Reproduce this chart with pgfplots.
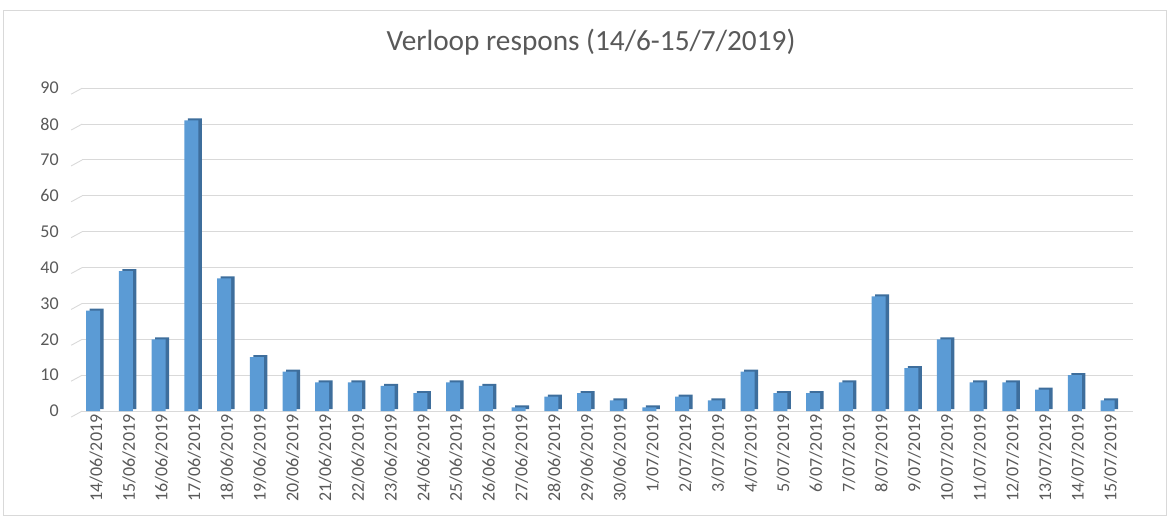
\documentclass[border=0pt]{standalone}
\usepackage{pgfplots}
\pgfplotsset{compat=1.18}
\usepackage{fontspec}
\setmainfont{Carlito}
\definecolor{txt}{HTML}{595959}
\definecolor{grid}{HTML}{D9D9D9}
\definecolor{front}{HTML}{5B9BD5}
\definecolor{side}{HTML}{3E6E9C}
\begin{document}
\begin{tikzpicture}[x=1pt,y=1pt]
\draw[white] (0,0) rectangle (1170,518);
\draw[grid,line width=0.8pt] (3,3) rectangle (1167,508);
\node[text=txt,font=\fontsize{29.3}{34}\selectfont] at (591,476) {Verloop respons (14/6-15/7/2019)};
\begin{axis}[
  at={(82pt,107pt)}, anchor=south west,
  scale only axis, width=1051pt, height=323pt,
  xmin=-0.336, xmax=31.77, ymin=0, ymax=90,
  ytick={0,10,...,90},
  xtick={0,...,31},
  xticklabels={14/06/2019,15/06/2019,16/06/2019,17/06/2019,18/06/2019,19/06/2019,20/06/2019,21/06/2019,22/06/2019,23/06/2019,24/06/2019,25/06/2019,26/06/2019,27/06/2019,28/06/2019,29/06/2019,30/06/2019,1/07/2019,2/07/2019,3/07/2019,4/07/2019,5/07/2019,6/07/2019,7/07/2019,8/07/2019,9/07/2019,10/07/2019,11/07/2019,12/07/2019,13/07/2019,14/07/2019,15/07/2019},
  axis line style={draw=none},
  tick style={draw=none},
  xmajorgrids=false, ymajorgrids=true,
  y grid style={grid, line width=0.9pt},
  ticklabel style={text=txt, font=\fontsize{18}{20}\selectfont},
  xticklabel style={rotate=90, anchor=east, yshift=-3pt},
  yticklabel style={xshift=-20pt},
  /pgf/number format/assume math mode=true,
  clip=false,
]
\pgfplotsinvokeforeach{0,10,...,90}{
  \draw[grid, line width=0.9pt] ([xshift=-11pt,yshift=-6pt]axis cs:-0.336,#1) -- (axis cs:-0.336,#1);
}
\addplot[ybar, bar width=14pt, fill=side, draw=none, xshift=3.5pt, yshift=2pt] table[x=x,y=y] {
x y
0 28
1 39
2 20
3 81
4 37
5 15
6 11
7 8
8 8
9 7
10 5
11 8
12 7
13 1
14 4
15 5
16 3
17 1
18 4
19 3
20 11
21 5
22 5
23 8
24 32
25 12
26 20
27 8
28 8
29 6
30 10
31 3
};
\addplot[ybar, bar width=14pt, fill=front, draw=none] table[x=x,y=y] {
x y
0 28
1 39
2 20
3 81
4 37
5 15
6 11
7 8
8 8
9 7
10 5
11 8
12 7
13 1
14 4
15 5
16 3
17 1
18 4
19 3
20 11
21 5
22 5
23 8
24 32
25 12
26 20
27 8
28 8
29 6
30 10
31 3
};
\end{axis}
\end{tikzpicture}
\end{document}
